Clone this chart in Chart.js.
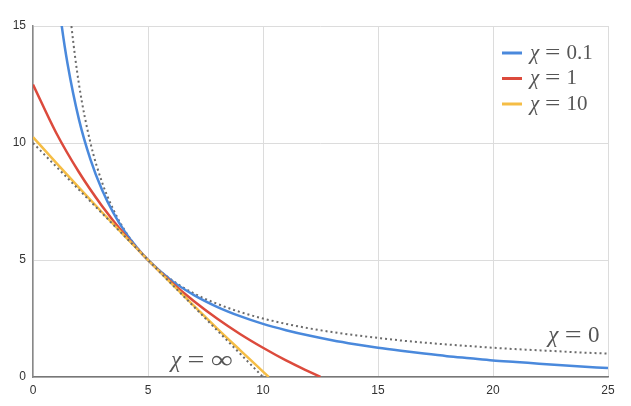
<!DOCTYPE html>
<html>
<head>
<meta charset="utf-8">
<script src="https://cdn.jsdelivr.net/npm/chart.js@4"></script>
<style>
  html, body { margin: 0; padding: 0; background: #fff; }
  #wrap { position: relative; width: 631px; height: 406px; }
</style>
</head>
<body>
<div id="wrap"><canvas id="chart"></canvas></div>
<script>
// values
const xTicks = [0, 5, 10, 15, 20, 25];
const yTicks = [0, 5, 10, 15];

const chi01X = [1, 1.25, 1.5, 2, 2.5, 3, 3.5, 4, 4.5, 5, 6, 7, 8, 9, 10, 11, 12, 13, 14, 15, 16, 17, 18, 19, 20, 21, 22, 23, 24, 25];
const chi01Y = [17, 15, 13.4, 11, 9.29, 8, 7, 6.2, 5.55, 5, 4.14, 3.5, 3, 2.6, 2.27, 2, 1.77, 1.57, 1.4, 1.25, 1.12, 1, 0.89, 0.8, 0.71, 0.64, 0.57, 0.5, 0.44, 0.38];

const chi1X = [0, 1, 2, 3, 4, 5, 6, 7, 8, 9, 10, 11, 12, 12.5];
const chi1Y = [12.5, 10.45, 8.75, 7.31, 6.07, 5, 4.06, 3.24, 2.5, 1.84, 1.25, 0.71, 0.23, 0];

const chi10X = [0, 1, 2, 3, 4, 5, 6, 7, 8, 9, 10, 10.25];
const chi10Y = [10.25, 9.16, 8.09, 7.04, 6.01, 5, 4.01, 3.04, 2.08, 1.15, 0.23, 0];

const chi0X = [1.5, 1.67, 2, 2.5, 3, 3.5, 4, 4.5, 5, 6, 7, 8, 9, 10, 11, 12, 13, 14, 15, 16, 17, 18, 19, 20, 21, 22, 23, 24, 25];
const chi0Y = [16.7, 15, 12.5, 10, 8.33, 7.14, 6.25, 5.56, 5, 4.17, 3.57, 3.13, 2.78, 2.5, 2.27, 2.08, 1.92, 1.79, 1.67, 1.56, 1.47, 1.39, 1.32, 1.25, 1.19, 1.14, 1.09, 1.04, 1];

const chiInfX = [0, 10];
const chiInfY = [10, 0];

const toPts = (xs, ys) => xs.map((x, i) => ({ x: x, y: ys[i] }));

const curve = (label, xs, ys, color, order) => ({
    label: label,
    data: toPts(xs, ys),
    borderColor: color,
    borderWidth: 2.5,
    pointRadius: 0,
    showLine: true,
    cubicInterpolationMode: 'monotone',
    order: order,
    inLegend: true
});

const dotted = (label, xs, ys, order) => ({
    label: label,
    data: toPts(xs, ys),
    borderColor: '#6b6b6b',
    borderWidth: 2,
    borderDash: [2, 3],
    pointRadius: 0,
    showLine: true,
    cubicInterpolationMode: 'monotone',
    order: order,
    inLegend: false
});

const serif = '"Liberation Serif", "DejaVu Serif", serif';

// "χ = value": italic chi, upright rest, math-style spacing round "="
const drawMath = (ctx, label, x, y, size, color) => {
    const value = label.split('=')[1].trim();
    const gap = size * 0.28;
    ctx.save();
    ctx.fillStyle = color;
    ctx.textBaseline = 'middle';
    ctx.textAlign = 'left';
    ctx.font = 'italic ' + size + 'px ' + serif;
    ctx.fillText('χ', x, y);
    x += ctx.measureText('χ').width + gap;
    ctx.font = size + 'px ' + serif;
    ctx.save();
    ctx.translate(x, y);
    ctx.scale(1.3, 1);
    ctx.fillText('=', 0, 0);
    ctx.restore();
    x += ctx.measureText('=').width * 1.3 + gap;
    if (value === '∞') {
        ctx.save();
        ctx.translate(x, y);
        ctx.scale(1.35, 1.1);
        ctx.fillText(value, 0, 0);
        ctx.restore();
    } else {
        ctx.fillText(value, x, y);
    }
    ctx.restore();
};

const extras = {
    id: 'extras',
    afterDatasetsDraw(chart) {
        const ctx = chart.ctx;
        const xs = chart.scales.x, ys = chart.scales.y;

        // legend
        let row = 0;
        chart.data.datasets.forEach(ds => {
            if (!ds.inLegend) return;
            const y = 53 + row * 25.5;
            ctx.save();
            ctx.strokeStyle = ds.borderColor;
            ctx.lineWidth = 3;
            ctx.beginPath();
            ctx.moveTo(502, y);
            ctx.lineTo(522, y);
            ctx.stroke();
            ctx.restore();
            drawMath(ctx, ds.label, 530, y, 21, '#555');
            row++;
        });

        // curve labels
        drawMath(ctx, 'χ = ∞', xs.getPixelForValue(6.0), ys.getPixelForValue(0.68), 23, '#555');
        drawMath(ctx, 'χ = 0', xs.getPixelForValue(22.4), ys.getPixelForValue(1.75), 23, '#555');
    }
};

new Chart(document.getElementById('chart'), {
    type: 'scatter',
    data: {
        datasets: [
            curve('χ = 0.1', chi01X, chi01Y, '#4a89dc', 3),
            curve('χ = 1', chi1X, chi1Y, '#dc4a3c', 2),
            curve('χ = 10', chi10X, chi10Y, '#f5bd45', 1),
            dotted('χ = 0', chi0X, chi0Y, 4),
            dotted('χ = ∞', chiInfX, chiInfY, 0)
        ]
    },
    options: {
        responsive: true,
        maintainAspectRatio: false,
        animation: false,
        layout: { padding: { top: 26, right: 23, left: 0, bottom: 0 } },
        plugins: {
            legend: { display: false },
            tooltip: { enabled: false }
        },
        scales: {
            x: {
                type: 'linear',
                min: 0,
                max: 25,
                afterFit: s => { s.height = 29; },
                afterBuildTicks: s => { s.ticks = xTicks.map(v => ({ value: v })); },
                grid: { color: '#dcdcdc', lineWidth: 1, drawTicks: false },
                border: { color: '#777', width: 1.5 },
                ticks: { color: '#333', font: { family: 'Arial, "Liberation Sans", sans-serif', size: 12 }, padding: 6, maxRotation: 0 }
            },
            y: {
                type: 'linear',
                min: 0,
                max: 15,
                afterFit: s => { s.width = 33; },
                afterBuildTicks: s => { s.ticks = yTicks.map(v => ({ value: v })); },
                grid: { color: '#dcdcdc', lineWidth: 1, drawTicks: false },
                border: { color: '#888', width: 1.5 },
                ticks: { color: '#333', font: { family: 'Arial, "Liberation Sans", sans-serif', size: 12 }, padding: 7 }
            }
        }
    },
    plugins: [extras]
});
</script>
</body>
</html>
